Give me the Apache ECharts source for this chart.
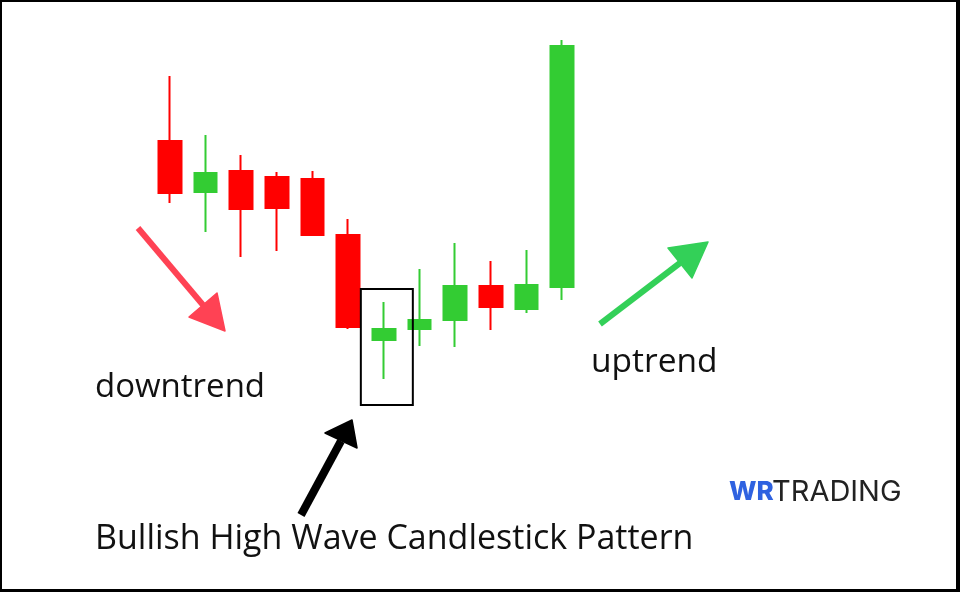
<!DOCTYPE html>
<html>
<head>
<meta charset="utf-8">
<script src="https://cdn.jsdelivr.net/npm/echarts@6/dist/echarts.min.js"></script>
<style>
html,body{margin:0;padding:0;background:#fff;}
#main{width:960px;height:592px;}
</style>
</head>
<body>
<div id="main"></div>
<script>
// Sessions (no labels drawn in the picture)
const categories = ['S1','S2','S3','S4','S5','S6','S7','S8','S9','S10','S11','S12'];
// Candle values (arbitrary price units), order per candle
const openValues  = [259, 208, 229, 223, 221, 165, 60, 71,  80, 114,  91, 113];
const closeValues = [207, 227, 191, 192, 165,  73, 71, 80, 114,  93, 115, 354];
const lowValues   = [197, 168, 143, 149, 165,  71, 21, 54,  53,  70,  87, 100];
const highValues  = [324, 265, 245, 228, 229, 181, 98, 131, 157, 139, 150, 360];
// Index of the highlighted bullish high wave candle
const highlightIndex = 6;
// Texts
const downText = 'downtrend';
const upText = 'uptrend';
const patternText = 'Bullish High Wave Candlestick Pattern';
const brandA = 'WR';
const brandB = 'TRADING';

const candleData = categories.map((c, i) => [openValues[i], closeValues[i], lowValues[i], highValues[i]]);

const chart = echarts.init(document.getElementById('main'), null, {renderer: 'canvas'});
const GREEN = '#33CC33', RED = '#FF0000';
const FONT = '"Open Sans", "Noto Sans", sans-serif';

const option = {
  backgroundColor: '#ffffff',
  animation: false,
  grid: {left: 152, right: 380, top: 40, bottom: 152},
  xAxis: {type: 'category', data: categories, show: false, boundaryGap: true},
  yAxis: {type: 'value', min: -40, max: 360, show: false, splitLine: {show: false}},
  series: [{
    type: 'candlestick',
    data: candleData,
    barWidth: 23,
    itemStyle: {color: GREEN, color0: RED, borderColor: GREEN, borderColor0: RED, borderWidth: 2}
  }]
};
chart.setOption(option);

function arrow(tail, baseMid, tip, c1, c2, width, color) {
  return [
    {type: 'line', shape: {x1: tail[0], y1: tail[1], x2: baseMid[0], y2: baseMid[1]},
     style: {stroke: color, lineWidth: width, lineCap: 'butt'}, z: 10},
    {type: 'polygon', shape: {points: [tip, c1, c2]},
     style: {fill: color, stroke: color, lineWidth: 1.5, lineJoin: 'round'}, z: 10}
  ];
}

// highlight box around the chosen candle, from the library's scale
const topPt = chart.convertToPixel({seriesIndex: 0}, [highlightIndex, highValues[highlightIndex]]);
const lowPt = chart.convertToPixel({seriesIndex: 0}, [highlightIndex, lowValues[highlightIndex]]);
const cx = topPt[0];

const graphics = [
  // frame
  {type: 'rect', shape: {x: 0, y: 0, width: 2, height: 592}, style: {fill: '#000'}},
  {type: 'rect', shape: {x: 0, y: 0, width: 960, height: 2}, style: {fill: '#000'}},
  {type: 'rect', shape: {x: 956, y: 0, width: 4, height: 592}, style: {fill: '#000'}},
  {type: 'rect', shape: {x: 0, y: 589, width: 960, height: 3}, style: {fill: '#000'}},
  // box
  {type: 'rect', z: 20,
   shape: {x: cx - 23, y: topPt[1] - 13, width: 52, height: (lowPt[1] + 26) - (topPt[1] - 13)},
   style: {fill: 'none', stroke: '#000', lineWidth: 2}},
  ...arrow([138, 228], [203, 305], [225, 331], [189, 317], [217, 293], 6, '#FF4254'),
  ...arrow([301, 515], [341, 441], [352, 420], [325, 433], [357, 448], 8, '#000000'),
  ...arrow([600, 324], [680, 263], [708, 242], [668, 248], [692, 278], 6, '#33D058'),
  {type: 'text', x: 95, y: 388, z: 30,
   style: {text: downText, font: '33px ' + FONT, fill: '#111', verticalAlign: 'middle', align: 'left'}},
  {type: 'text', x: 591, y: 362, z: 30,
   style: {text: upText, font: '33.5px ' + FONT, fill: '#111', verticalAlign: 'middle', align: 'left'}},
  {type: 'text', x: 95, y: 539, z: 30,
   style: {text: patternText, font: '34px ' + FONT, fill: '#111', verticalAlign: 'middle', align: 'left'}},
  {type: 'text', x: 729, y: 492, z: 30,
   style: {text: brandA, font: '800 26px Inter, sans-serif', fill: '#2F62E0', verticalAlign: 'middle', align: 'left'}},
  {type: 'text', x: 772, y: 492, z: 30,
   style: {text: brandB, font: '400 29px Inter, sans-serif', fill: '#222', verticalAlign: 'middle', align: 'left'}}
];
chart.setOption({graphic: graphics});
</script>
</body>
</html>
